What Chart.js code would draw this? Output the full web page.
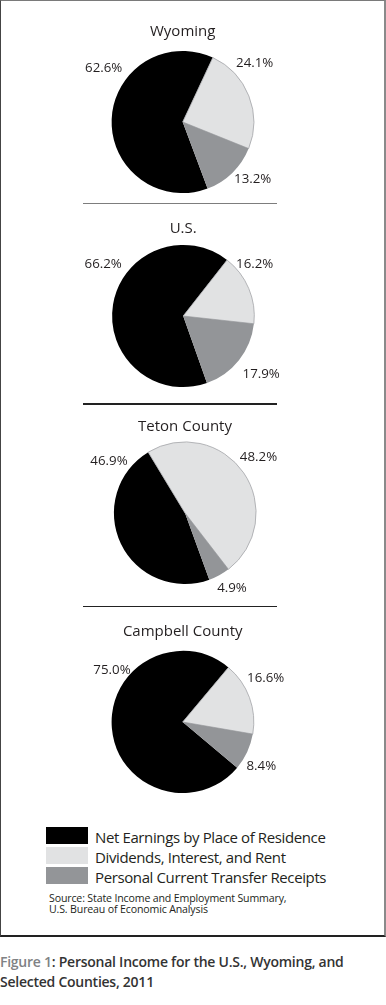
<!DOCTYPE html>
<html><head><meta charset="utf-8">
<script src="https://cdn.jsdelivr.net/npm/chart.js@4.4.1/dist/chart.umd.min.js"></script>
<style>
html,body{margin:0;padding:0;background:#fff}
body{width:386px;height:1005px;position:relative;overflow:hidden;font-family:"Open Sans",sans-serif;color:#231f20}
#frame{position:absolute;left:0;top:0;width:386px;height:937px;box-sizing:border-box;border-top:1px solid #7a7a7a;border-left:1.5px solid #444;border-right:2px solid #8a8a8a;border-bottom:2px solid #222}
canvas{position:absolute;left:0}
.sep{position:absolute;left:83px;width:194px;height:1.5px}
.lg{position:absolute;left:46px;width:42px;height:17px}
.lt{position:absolute;left:95px;font-size:15px;line-height:20px;white-space:nowrap;letter-spacing:-0.38px}
#src{position:absolute;left:49px;top:893px;font-size:10.6px;line-height:11px;white-space:nowrap;letter-spacing:-0.15px}
#cap{position:absolute;left:0;top:952px;font-size:14px;line-height:20px;font-weight:600;color:#333;white-space:nowrap;letter-spacing:-0.25px}
#cap span{color:#808285}
</style></head>
<body>
<div id="frame"></div>
<div class="sep" style="top:202.5px;background:#7d7d7d"></div>
<div class="sep" style="top:403px;background:#222"></div>
<div class="sep" style="top:605.5px;background:#222"></div>
<div id="legend"></div>
<div id="src">Source: State Income and Employment Summary,<br>U.S. Bureau of Economic Analysis</div>
<div id="cap"><span>Figure 1</span>: Personal Income for the U.S., Wyoming, and<br>Selected Counties, 2011</div>
<script>
// ---- data ----
const regions = ['Wyoming', 'U.S.', 'Teton County', 'Campbell County'];
const categories = ['Net Earnings by Place of Residence', 'Dividends, Interest, and Rent', 'Personal Current Transfer Receipts'];
const netEarnings = [62.6, 66.2, 46.9, 75.0];
const dividends = [24.1, 16.2, 48.2, 16.6];
const transfers = [13.2, 17.9, 4.9, 8.4];

// ---- styles / layout ----
const colors = ['#000000', '#e1e2e3', '#939598'];
const borderColors = ['#000000', '#a3a5a8', '#939598'];
const centers = [[182.7, 121.7], [183.2, 316.3], [185, 513], [182.7, 722]];
const rotations = [159.5, 160.5, 160, 130];
const titleCenterY = [31.7, 228.7, 427, 632];
const labelOffsets = [
  [[-79, -54], [72, -59], [70, 57]],
  [[-80, -52], [71.5, -52], [78, 58]],
  [[-76, -52], [73.5, -56], [47, 75]],
  [[-70.7, -52], [83, -44], [78.6, 44.7]]
];
const PIE = 143, CH = 200, CW = 386, TITLE_LH = 18;

const pctLabels = {
  id: 'pctLabels',
  afterDatasetsDraw(chart, args, opts) {
    const meta = chart.getDatasetMeta(0);
    const ctx = chart.ctx;
    ctx.save();
    ctx.font = '13.3px "Open Sans", sans-serif';
    ctx.fillStyle = '#231f20';
    ctx.textAlign = 'center';
    ctx.textBaseline = 'middle';
    meta.data.forEach((arc, i) => {
      const v = chart.data.datasets[0].data[i];
      const o = opts.offsets[i];
      ctx.fillText(v.toFixed(1) + '%', arc.x + o[0], arc.y + o[1]);
    });
    ctx.restore();
  }
};

regions.forEach((name, k) => {
  const [cx, cy] = centers[k];
  const top = cy - CH / 2;
  const cv = document.createElement('canvas');
  cv.width = CW; cv.height = CH;
  cv.style.top = top + 'px';
  cv.style.width = CW + 'px'; cv.style.height = CH + 'px';
  document.body.appendChild(cv);
  const areaTop = CH / 2 - PIE / 2;
  const pt = titleCenterY[k] - top - TITLE_LH / 2;
  const pb = areaTop - pt - TITLE_LH;
  new Chart(cv, {
    type: 'pie',
    data: {
      labels: categories,
      datasets: [{
        data: [netEarnings[k], dividends[k], transfers[k]],
        backgroundColor: colors,
        borderColor: borderColors,
        borderWidth: [0, 0.8, 0]
      }]
    },
    options: {
      responsive: false,
      animation: false,
      events: [],
      rotation: rotations[k],
      layout: { padding: { left: 0, right: 2 * (CW / 2 - cx), top: 0, bottom: CH - areaTop - PIE } },
      plugins: {
        legend: { display: false },
        tooltip: { enabled: false },
        title: {
          display: true, text: name, color: '#231f20',
          font: { family: '"Open Sans", sans-serif', size: 15, weight: 'normal', lineHeight: 1.2 },
          padding: { top: pt, bottom: pb }
        },
        pctLabels: { offsets: labelOffsets[k] }
      }
    },
    plugins: [pctLabels]
  });
});

// legend
const lg = document.getElementById('legend');
const boxTops = [827, 847, 867];
categories.forEach((c, i) => {
  const b = document.createElement('div');
  b.className = 'lg'; b.style.top = boxTops[i] + 'px'; b.style.background = colors[i];
  lg.appendChild(b);
  const t = document.createElement('div');
  t.className = 'lt'; t.style.top = (boxTops[i] + 8.5 - 10 + (i === 0 ? 1 : 1.5)) + 'px'; t.textContent = c;
  lg.appendChild(t);
});
</script>
</body></html>
